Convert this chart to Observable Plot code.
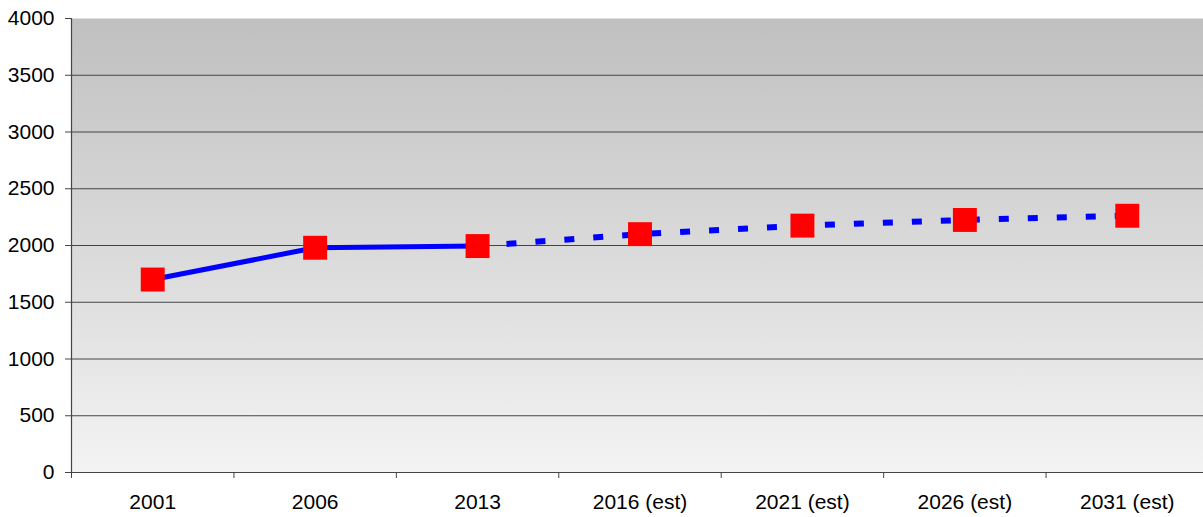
<!DOCTYPE html>
<html>
<head>
<meta charset="utf-8">
<script src="https://cdn.jsdelivr.net/npm/d3@7"></script>
<script src="https://cdn.jsdelivr.net/npm/@observablehq/plot@0.6"></script>
<style>
  html, body { margin: 0; padding: 0; background: #fff; overflow: hidden; width: 1203px; height: 517px; }
  #chart svg { overflow: hidden; max-width: none !important; }
</style>
</head>
<body>
<div id="chart"></div>
<script>
const categories = ["2001", "2006", "2013", "2016 (est)", "2021 (est)", "2026 (est)", "2031 (est)"];
const values = [1700, 1980, 1995, 2100, 2175, 2225, 2262];
const yTicks = [0, 500, 1000, 1500, 2000, 2500, 3000, 3500, 4000];
const gridValues = [500, 1000, 1500, 2000, 2500, 3000, 3500];
const actualCount = 3; // first three are recorded, rest estimates

const data = categories.map((c, i) => ({i, c, v: values[i]}));
const solid = data.slice(0, actualCount);
const dashed = data.slice(actualCount - 1);
const boundaries = d3.range(-0.5, categories.length, 1);

const font = "Liberation Sans, Arial, sans-serif";

const plot = Plot.plot({
  width: 1208,
  height: 517,
  marginTop: 18,
  marginBottom: 45,
  marginLeft: 71,
  marginRight: 0,
  style: {fontFamily: font, fontSize: "21px", color: "#000", background: "#fff", maxWidth: "none"},
  x: {type: "linear", domain: [-0.5, categories.length - 0.5], axis: null, label: null},
  y: {domain: [0, 4000], axis: null, label: null},
  marks: [
    Plot.frame({fill: "url(#bggrad)", stroke: "none"}),
    Plot.ruleY(gridValues, {stroke: "#444", strokeWidth: 1}),
    Plot.axisY({ticks: yTicks, tickSize: 6, tickPadding: 11, stroke: "#444", tickFormat: d => String(d), fill: "#000", label: null}),
    Plot.axisX({ticks: data.map(d => d.i), tickSize: 0, tickPadding: 22, tickFormat: i => categories[i], fill: "#000", label: null}),
    Plot.axisX({ticks: boundaries, tickSize: 6, tickFormat: () => "", stroke: "#444", label: null}),
    Plot.ruleX([-0.5], {stroke: "#444", strokeWidth: 1.2}),
    Plot.ruleY([0], {stroke: "#444", strokeWidth: 1.2}),
    Plot.line(solid, {x: "i", y: "v", stroke: "#0000ff", strokeWidth: 5}),
    Plot.line(dashed, {x: "i", y: "v", stroke: "#0000ff", strokeWidth: 6, strokeDasharray: "10,19", strokeLinecap: "butt"}),
    Plot.dot(data, {x: "i", y: "v", symbol: "square", r: 13.5, fill: "#ff0000", stroke: "none"})
  ]
});

const defs = d3.select(plot).insert("defs", ":first-child");
const g = defs.append("linearGradient").attr("id", "bggrad").attr("x1", 0).attr("y1", 0).attr("x2", 0).attr("y2", 1);
g.append("stop").attr("offset", "0%").attr("stop-color", "#c0c0c0");
g.append("stop").attr("offset", "100%").attr("stop-color", "#f3f3f3");

document.getElementById("chart").appendChild(plot);
</script>
</body>
</html>
